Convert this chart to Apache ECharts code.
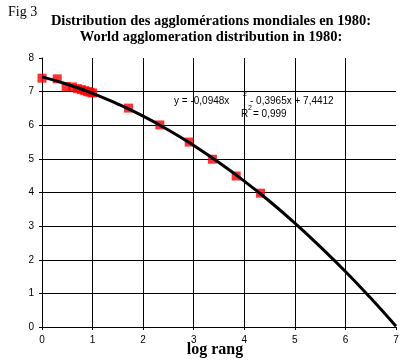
<!DOCTYPE html>
<html><head><meta charset="utf-8">
<script src="https://cdn.jsdelivr.net/npm/echarts@6/dist/echarts.min.js"></script>
<style>html,body{margin:0;padding:0;background:#fff}#c{width:407px;height:363px}</style>
</head><body><div id="c"></div>
<script>
// observed points: x = log rang, y = log size
const pointX = [0, 0.301, 0.477, 0.602, 0.699, 0.778, 0.845, 0.903, 0.954, 1.0, 1.71, 2.33, 2.91, 3.37, 3.84, 4.32];
const pointY = [7.40, 7.38, 7.15, 7.14, 7.09, 7.06, 7.03, 7.00, 6.98, 6.96, 6.51, 6.01, 5.50, 4.99, 4.49, 3.98];
// trend curve
const curveX = [0, 0.5, 1, 1.5, 2, 2.5, 3, 3.5, 4, 4.5, 5, 5.5, 6, 6.5, 7];
const curveY = [7.44, 7.22, 6.95, 6.63, 6.27, 5.86, 5.40, 4.89, 4.34, 3.74, 3.09, 2.39, 1.65, 0.86, 0.02];
const xTicks = [0, 1, 2, 3, 4, 5, 6, 7];
const yTicks = [0, 1, 2, 3, 4, 5, 6, 7, 8];
const titleLines = ['Distribution des agglomérations mondiales en 1980:', 'World agglomeration distribution in 1980:'];
const figLabel = 'Fig 3';
const xName = 'log rang';
const eqParts = ['y = -0,0948x', '2', '- 0,3965x + 7,4412'];
const r2Parts = ['R', '2', '= 0,999'];

const chart = echarts.init(document.getElementById('c'), null, {renderer: 'canvas'});
const sans = 'Liberation Sans, Arial, sans-serif';
const serif = 'Liberation Serif, Times New Roman, serif';
const txt = (x, y, text, font, align) => ({type: 'text', x: x, y: y, z: 10,
  style: {text: text, font: font, fill: '#000', textAlign: align || 'left', textVerticalAlign: 'middle'}});
chart.setOption({
  animation: false,
  backgroundColor: '#fff',
  grid: {left: 42, right: 11, top: 58, bottom: 36},
  xAxis: [{
    type: 'value', min: xTicks[0], max: xTicks[xTicks.length - 1], interval: 1,
    axisLine: {show: true, onZero: false, lineStyle: {color: '#000', width: 1}},
    axisTick: {show: true, length: 3, lineStyle: {color: '#000'}},
    axisLabel: {color: '#000', fontFamily: sans, fontSize: 10, margin: 8},
    splitLine: {show: true, showMinLine: false, showMaxLine: false, lineStyle: {color: '#000', width: 1}}
  }, {
    type: 'value', position: 'top', min: 0, max: 7,
    axisLine: {show: true, lineStyle: {color: '#000', type: [1, 2], width: 1}},
    axisTick: {show: false}, axisLabel: {show: false}, splitLine: {show: false}
  }],
  yAxis: [{
    type: 'value', min: yTicks[0], max: yTicks[yTicks.length - 1], interval: 1,
    axisLine: {show: true, onZero: false, lineStyle: {color: '#000', width: 1}},
    axisTick: {show: true, length: 3, lineStyle: {color: '#000'}},
    axisLabel: {color: '#000', fontFamily: sans, fontSize: 10, margin: 8},
    splitLine: {show: true, showMinLine: false, showMaxLine: false, lineStyle: {color: '#000', width: 1}}
  }, {
    type: 'value', position: 'right', min: 0, max: 8,
    axisLine: {show: true, lineStyle: {color: '#000', type: [1, 2], width: 1}},
    axisTick: {show: false}, axisLabel: {show: false}, splitLine: {show: false}
  }],
  series: [{
    type: 'scatter', symbol: 'rect', symbolSize: 9,
    itemStyle: {color: '#ff0000'}, z: 2,
    data: pointX.map((x, i) => [x, pointY[i]])
  }, {
    type: 'line', smooth: true, showSymbol: false, z: 3,
    lineStyle: {color: '#000', width: 3},
    data: curveX.map((x, i) => [x, curveY[i]])
  }],
  graphic: [
    txt(8, 12, figLabel, '14px ' + serif),
    txt(211, 21, titleLines[0], 'bold 14.5px ' + serif, 'center'),
    txt(211, 37, titleLines[1], 'bold 14.5px ' + serif, 'center'),
    txt(174, 101, eqParts[0], '10px ' + sans),
    txt(243, 94, eqParts[1], '7px ' + sans),
    txt(250, 101, eqParts[2], '10px ' + sans),
    txt(241, 114, r2Parts[0], '10px ' + sans),
    txt(248, 108, r2Parts[1], '7px ' + sans),
    txt(253, 114, r2Parts[2], '10px ' + sans),
    txt(215, 350, xName, 'bold 16px ' + serif, 'center')
  ]
});
</script></body></html>
